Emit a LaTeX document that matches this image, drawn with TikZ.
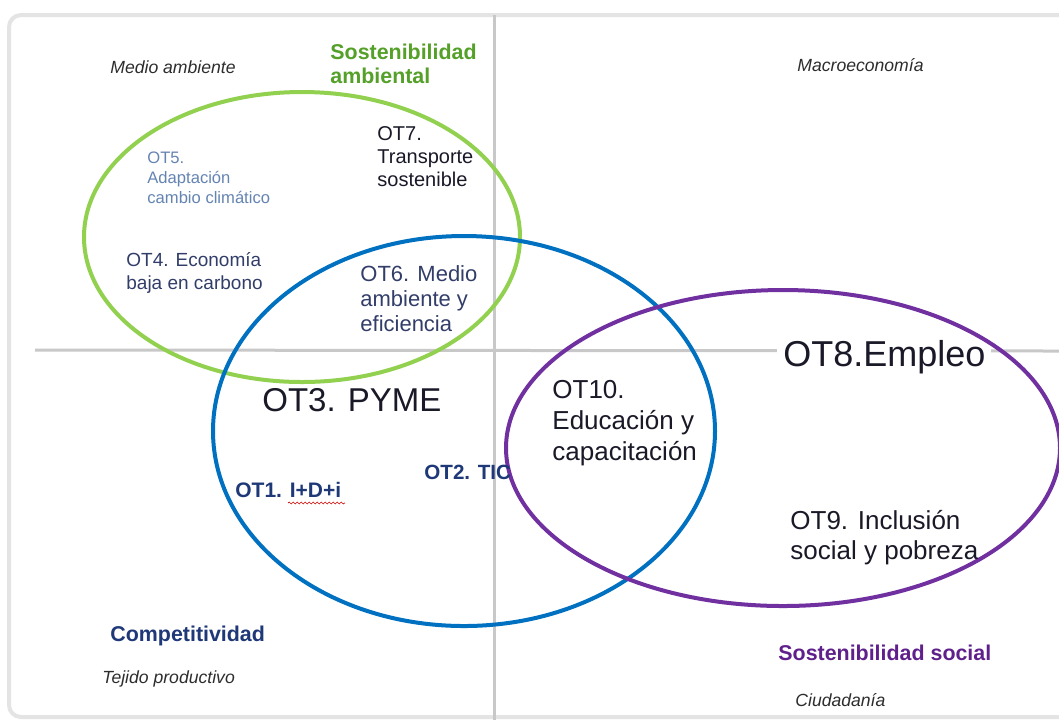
\documentclass[tikz,border=0pt]{standalone}
\usepackage{fontspec}
\setmainfont{Liberation Sans}
\usetikzlibrary{shapes.geometric,decorations.pathmorphing}
\definecolor{ejegris}{RGB}{200,200,200}
\definecolor{marco}{RGB}{228,228,228}
\definecolor{verdearo}{RGB}{146,208,80}
\definecolor{verdetxt}{RGB}{84,160,40}
\definecolor{azularo}{RGB}{0,112,192}
\definecolor{moradoaro}{RGB}{112,48,160}
\definecolor{moradotxt}{RGB}{96,32,140}
\definecolor{azultxt}{RGB}{30,56,120}
\definecolor{pizarra}{RGB}{50,62,105}
\definecolor{celeste}{RGB}{100,132,178}
\definecolor{casinegro}{RGB}{25,25,40}
\definecolor{textogris}{RGB}{45,45,45}

\begin{document}
\begin{tikzpicture}[x=0.5pt,y=-0.5pt,
    eje/.style={draw=ejegris, line width=1.5pt},
    aro/.style={draw, ellipse, line width=2pt, inner sep=0pt},
    txt/.style={anchor=north west, inner sep=0pt, align=left},
    eti/.style={txt, text=textogris, font=\fontsize{8.8}{10}\selectfont\itshape},
    eje_tit/.style={txt, font=\fontsize{10.7}{12}\selectfont\bfseries}]
    % Objetivos tematicos sobre los cuatro cuadrantes
    \useasboundingbox (0,0) rectangle (1059,720);
    \clip (0,0) rectangle (1059,720);
    \fill[white] (0,0) rectangle (1059,720);
    \draw[marco, line width=2pt, rounded corners=6pt] (9,15) rectangle (1080,717);

    \coordinate (ejeN) at (494,15);
    \coordinate (ejeS) at (494,720);
    \coordinate (ejeO) at (35,350);
    \coordinate (ejeE) at (1059,351);
    \draw[eje] (ejeN) -- (ejeS);
    \draw[eje] (ejeO) -- (ejeE);

    \node[txt, fill=white, inner sep=3pt, text=casinegro, font=\fontsize{18}{20}\selectfont] (ot8) at (777,334) {OT8.Empleo};

    \node[aro, draw=verdearo, minimum width=218pt, minimum height=145pt] (ambiental) at (302,237) {};
    \node[aro, draw=azularo, minimum width=251pt, minimum height=195pt] (competitiva) at (464,431) {};
    \node[aro, draw=moradoaro, minimum width=277pt, minimum height=158pt] (socialaro) at (783,448) {};

    \node[eti] (medio) at (110,60) {Medio ambiente};
    \node[eti] (macro) at (797,58) {Macroeconomía};
    \node[eti] (tejido) at (102,670) {Tejido productivo};
    \node[eti] (ciudad) at (795,693) {Ciudadanía};

    \node[eje_tit, text=verdetxt] (sostamb) at (330,44) {Sostenibilidad\\ambiental};
    \node[eje_tit, text=azultxt] (compet) at (110,626) {Competitividad};
    \node[eje_tit, text=moradotxt] (sostsoc) at (778,645) {Sostenibilidad social};

    \node[txt, text=casinegro, font=\fontsize{10}{11.5}\selectfont] (ot7) at (377,126) {OT7.\\Transporte\\sostenible};
    \node[txt, text=celeste, font=\fontsize{8.3}{10}\selectfont] (ot5) at (147,151) {OT5.\\Adaptación\\cambio climático};
    \node[txt, text=pizarra, font=\fontsize{9.5}{11.5}\selectfont] (ot4) at (126,252) {OT4. Economía\\baja en carbono};
    \node[txt, text=pizarra, font=\fontsize{11}{12.5}\selectfont] (ot6) at (360,265) {OT6. Medio\\ambiente y\\eficiencia};
    \node[txt, text=casinegro, font=\fontsize{16.5}{18}\selectfont] (ot3) at (262,388) {OT3. PYME};
    \node[txt, text=azultxt, font=\fontsize{10.5}{12}\selectfont\bfseries] (ot1) at (235,482) {OT1. I+D+i};
    \node[txt, text=azultxt, font=\fontsize{10.3}{12}\selectfont\bfseries] (ot2) at (424,465) {OT2. TIC};
    \node[txt, text=casinegro, font=\fontsize{13}{15.5}\selectfont] (ot10) at (552,380) {OT10.\\Educación y\\capacitación};
    \node[txt, text=casinegro, font=\fontsize{13}{15}\selectfont] (ot9) at (790,510) {OT9. Inclusión\\social y pobreza};

    \draw[red!80!black, line width=0.3pt, decorate, decoration={snake, amplitude=0.5pt, segment length=2pt}] (288,503) -- (345,503);
\end{tikzpicture}
\end{document}
